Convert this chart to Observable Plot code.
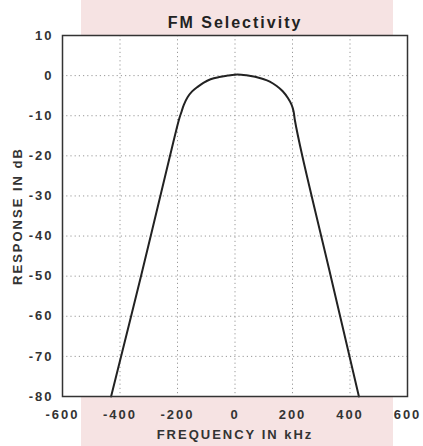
<!DOCTYPE html>
<html><head><meta charset="utf-8">
<script src="https://cdn.jsdelivr.net/npm/d3@7"></script>
<script src="https://cdn.jsdelivr.net/npm/@observablehq/plot@0.6"></script>
<style>
html,body{margin:0;padding:0}
body{width:423px;height:446px;overflow:hidden;background:linear-gradient(to right,#ffffff 0,#ffffff 81px,#f6e3e3 81px,#f6e3e3 393px,#ffffff 393px)}
#chart svg{display:block}
#chart svg text{letter-spacing:2px}
</style></head><body><div id="chart"></div>
<script>
const title = "FM Selectivity";
const xLabel = "FREQUENCY IN kHz";
const yLabel = "RESPONSE IN dB";
const freqKHz =    [-431, -327, -226, -195, -186, -178, -165, -150, -130, -110,  -85,   -55, -25,   8,  40,   70,   95,  121,  145,  166,  184,  197,  204,  208,  234,  333,  431];
const responseDb = [ -80,  -50,  -20,  -11,   -9, -7.3, -5.4,   -4, -2.8, -1.8, -0.9, -0.35,   0, 0.3, 0.1, -0.3, -0.8, -1.5, -2.6, -3.9, -5.6, -7.3,   -9,  -11,  -20,  -50,  -80];
const xTicks = [-600, -400, -200, 0, 200, 400, 600];
const yTicks = [10, 0, -10, -20, -30, -40, -50, -60, -70, -80];

const data = freqKHz.map((f, i) => ({f, db: responseDb[i]}));
const fmt = d => String(d);

const plot = Plot.plot({
  width: 423, height: 446,
  marginLeft: 62, marginRight: 16, marginTop: 35, marginBottom: 50,
  style: {background: "transparent", fontFamily: "'Liberation Sans', Arial, sans-serif", fontSize: "13px", fontWeight: "bold", color: "#333"},
  x: {domain: [-600, 600]},
  y: {domain: [-80, 10]},
  marks: [
    Plot.frame({fill: "white"}),
    Plot.gridX(xTicks, {stroke: "#999", strokeOpacity: 1, strokeDasharray: "1.2,3"}),
    Plot.gridY(yTicks, {stroke: "#999", strokeOpacity: 1, strokeDasharray: "1.2,3"}),
    Plot.axisX(xTicks, {tickSize: 0, tickPadding: 13, tickFormat: fmt, label: xLabel, labelAnchor: "center", labelArrow: "none", labelOffset: 42, fontWeight: "bold"}),
    Plot.axisY(yTicks, {tickSize: 0, tickPadding: 9, tickFormat: fmt, label: yLabel, labelAnchor: "center", labelArrow: "none", labelOffset: 50, fontWeight: "bold"}),
    Plot.line(data, {x: "f", y: "db", curve: "catmull-rom", stroke: "#222", strokeWidth: 2}),
    Plot.frame({stroke: "#333", strokeWidth: 1.5}),
    Plot.text([title], {frameAnchor: "top", dy: -19, fontSize: 16, fontWeight: "bold", fill: "#222"})
  ]
});
document.getElementById("chart").append(plot);
</script>
</body></html>
